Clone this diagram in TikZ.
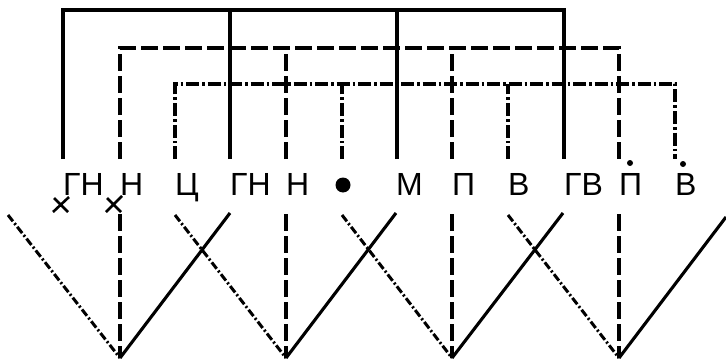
\documentclass[tikz,border=0pt]{standalone}
\usepackage{fontspec}
\setmainfont{Liberation Sans}
\begin{document}
\begin{tikzpicture}[x=1pt,y=-1pt,
  solidln/.style={line width=3.6pt},
  dashln/.style={line width=3.4pt, dash pattern=on 17pt off 5pt},
  dotln/.style={line width=3.2pt, dash pattern=on 13pt off 3pt on 2.5pt off 3pt},
  bsolid/.style={line width=3.1pt},
  bdash/.style={line width=3.1pt, dash pattern=on 17pt off 5pt},
  bdot/.style={line width=3pt, dash pattern=on 8pt off 2.5pt on 2pt off 2.5pt},
  xmark/.style={line width=2.6pt},
  lbl/.style={anchor=base west, inner sep=0pt, font=\fontsize{32}{32}\selectfont},
  bigdot/.style={circle, fill=black, inner sep=0pt, minimum size=15pt},
  smalldot/.style={circle, fill=black, inner sep=0pt, minimum size=6pt}]
\useasboundingbox (0,0) rectangle (726,361);

% labels
\node[lbl] (L1) at (63,195) {ГН};
\node[lbl] (L2) at (120,195) {Н};
\node[lbl] (L3) at (175,195) {Ц};
\node[lbl] (L4) at (230,195) {ГН};
\node[lbl] (L5) at (286,195) {Н};
\node[bigdot] (L6) at (343,185) {};
\node[lbl] (L7) at (396,195) {М};
\node[lbl] (L8) at (452,195) {П};
\node[lbl] (L9) at (508,195) {В};
\node[lbl] (L10) at (564,195) {ГВ};
\node[lbl] (L11) at (619,195) {П};
\node[lbl] (L12) at (675,195) {В};
\node[smalldot] (D11) at (630,163) {};
\node[smalldot] (D12) at (683,164) {};

% column ends above labels
\foreach \n/\x in {1/63,2/120,3/175,4/230,5/286,6/342,7/397,8/452,9/508,10/564,11/619,12/675}{
  \coordinate (c\n) at (\x,159);
}
% bus points
\foreach \n/\x in {1/63,4/230,7/397,10/564}{ \coordinate (t\n) at (\x,10); }
\foreach \n/\x in {2/120,5/286,8/452,11/619}{ \coordinate (t\n) at (\x,48); }
\foreach \n/\x in {3/175,6/342,9/508,12/675}{ \coordinate (t\n) at (\x,84); }

\draw[solidln] (c1) -- (t1) -- (t10) -- (c10);
\draw[solidln] (c4) -- (t4);
\draw[solidln] (c7) -- (t7);

\draw[dashln] (c2) -- (t2) -- (t11) -- (c11);
\draw[dashln] (c5) -- (t5);
\draw[dashln] (c8) -- (t8);

\draw[dotln] (c3) -- (t3) -- (t12) -- (c12);
\draw[dotln] (c6) -- (t6);
\draw[dotln] (c9) -- (t9);

% crosses
\draw[xmark] (53,212) -- (69,197) (54,198) -- (68,212);
\draw[xmark] (106,212) -- (122,196) (107,198) -- (121,212);

% lower V structures
\foreach \k/\v/\a/\b/\by in {1/120/8/230/213, 2/286/175/396/213, 3/452/342/563/213, 4/619/508/726/217}{
  \coordinate (v\k) at (\v,358);
  \coordinate (a\k) at (\a,215);
  \coordinate (b\k) at (\b,\by);
  \coordinate (d\k) at (\v,214);
  \draw[bdot] (a\k) -- (v\k);
  \draw[bsolid] (v\k) -- (b\k);
  \draw[bdash] (d\k) -- (v\k);
}
\end{tikzpicture}
\end{document}
